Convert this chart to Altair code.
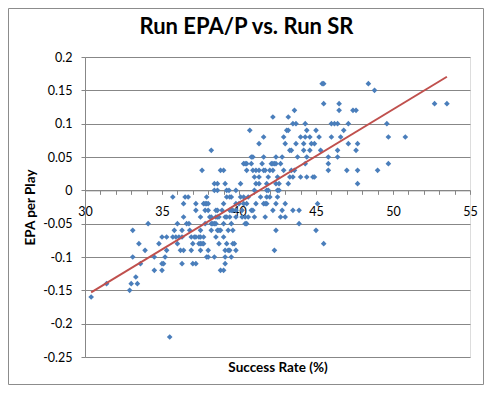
import altair as alt
import pandas as pd

# EPA rows (y) and the success rates (x) of the points in each row
rows = {
    0.16: [45.4, 45.5, 48.4],
    0.15: [48.8],
    0.13: [45.5, 46.5, 52.7, 53.5],
    0.12: [43.6, 46.5, 47.4, 47.6],
    0.11: [42.2, 43.2],
    0.10: [43.5, 43.7, 44.3, 46.0, 46.2, 46.4, 47.1, 49.6],
    0.09: [40.7, 43.1, 43.2, 44.4, 45.0, 46.8],
    0.08: [41.6, 42.9, 44.0, 44.3, 44.6, 45.2, 46.0, 46.6, 49.7, 50.8],
    0.07: [41.3, 43.0, 43.7, 44.2, 44.7, 44.9, 47.1, 47.7],
    0.06: [38.2, 43.3, 43.4, 44.2, 44.6, 45.3, 46.4, 47.6],
    0.05: [40.8, 40.9, 41.6, 42.4, 42.8, 43.8, 44.4, 45.8, 46.4],
    0.04: [40.3, 40.4, 40.5, 40.8, 41.5, 42.1, 42.2, 42.3, 42.4, 42.7, 44.3, 45.8, 49.7],
    0.03: [37.6, 38.8, 39.0, 40.5, 40.9, 41.1, 41.3, 41.6, 41.7, 42.0, 42.2, 42.9, 43.4, 43.6,
           45.8, 47.0, 47.7, 49.0],
    0.02: [41.0, 41.3, 41.9, 42.5, 43.3, 43.5, 44.0, 44.4, 44.8, 44.9],
    0.01: [38.4, 38.6, 39.1, 40.1, 41.1, 41.3, 41.8, 42.4, 42.6, 43.2, 47.7],
    0.00: [38.4, 38.6, 39.2, 39.35, 39.8, 41.0, 41.8, 41.9, 42.5, 42.6],
    -0.01: [35.7, 36.5, 36.7, 37.9, 39.2, 39.4, 39.5, 40.1, 40.3, 40.6, 41.4, 41.8, 42.0, 42.5],
    -0.02: [36.4, 37.2, 37.7, 37.8, 37.9, 38.0, 39.0, 39.8, 40.0, 40.3, 40.5, 41.1, 41.6, 41.7,
            41.8, 42.4, 43.0, 45.1],
    -0.03: [37.2, 37.8, 38.0, 38.5, 38.6, 38.9, 39.4, 39.5, 39.6, 39.8, 40.2, 40.8, 40.9, 42.2,
            42.8, 43.5, 43.9],
    -0.04: [36.4, 37.5, 38.1, 38.2, 38.5, 38.6, 38.7, 39.1, 39.2, 39.4, 39.8, 40.2, 40.4, 40.6,
            41.0, 41.7, 42.7, 43.0],
    -0.05: [34.1, 36.0, 36.6, 36.75, 37.8, 38.2, 38.3, 38.4, 38.5, 39.0, 39.5, 40.4, 40.5, 43.9],
    -0.06: [33.1, 35.8, 36.3, 36.8, 37.5, 38.2, 38.6, 38.7, 38.8, 39.3, 39.6, 42.4, 45.0],
    -0.07: [35.0, 35.3, 35.7, 35.9, 36.1, 36.3, 36.9, 37.1, 37.2, 37.4, 37.5, 37.7, 38.5, 39.0],
    -0.08: [33.5, 34.8, 36.0, 37.0, 37.4, 37.5, 37.6, 37.7, 38.7, 39.2, 39.6, 39.7, 45.5],
    -0.09: [33.9, 35.3, 36.2, 36.4, 36.9, 37.5, 38.0, 39.1, 39.3, 39.4, 39.8, 42.3],
    -0.10: [33.1, 34.5, 35.2, 37.9, 38.0, 38.4, 39.1, 39.5],
    -0.11: [33.6, 35.0, 35.1, 36.3, 37.0, 37.2, 39.1],
    -0.12: [34.5, 35.0, 38.8, 39.0],
    -0.13: [33.3],
    -0.14: [31.4, 33.0, 33.4],
    -0.15: [32.9],
    -0.16: [30.4],
    -0.22: [35.5],
}

x_ticks = list(range(30, 56))
y_ticks = [0.2, 0.15, 0.1, 0.05, 0, -0.05, -0.1, -0.15, -0.2, -0.25]

sr, epa = [], []
for y, xs in rows.items():
    for x in xs:
        sr.append(x)
        epa.append(y)
df = pd.DataFrame({"sr": sr, "epa": epa})

W, H = 385, 300
PAD_L, PAD_T, PAD_R, PAD_B = 77, 49, 14, 28
y_min, y_max = -0.25, 0.2
zero_offset = -H * (0 - y_min) / (y_max - y_min)

GRID = "#878787"

x_enc = alt.X(
    "sr:Q",
    scale=alt.Scale(domain=[30, 55], nice=False, zero=False),
    axis=alt.Axis(
        values=x_ticks,
        labelExpr="datum.value % 5 == 0 ? datum.label : ''",
        labelOverlap=False,
        labelFlush=False,
        grid=False,
        offset=zero_offset,
        domainColor=GRID,
        tickColor=GRID,
        tickSize=4,
        labelPadding=11,
        labelFont="Lato",
        labelFontSize=12.5,
        labelColor="#000000",
        title="Success Rate (%)",
        titleFont="Lato",
        titleFontSize=13.5,
        titleFontWeight="bold",
        titleColor="#000000",
        titleBaseline="middle",
        titleY=177,
    ),
)
y_enc = alt.Y(
    "epa:Q",
    scale=alt.Scale(domain=[y_min, y_max], nice=False, zero=False),
    axis=alt.Axis(
        values=y_ticks,
        labelExpr="replace(format(datum.value, '.2~f'), '\u2212', '-')",
        labelOverlap=False,
        labelFlush=False,
        grid=True,
        gridColor=GRID,
        gridWidth=1,
        domainColor=GRID,
        tickColor=GRID,
        tickSize=4,
        labelPadding=9,
        labelFont="Lato",
        labelFontSize=12.5,
        labelColor="#000000",
        title="EPA per Play",
        titleFont="Lato",
        titleFontSize=13.5,
        titleFontWeight="bold",
        titleColor="#000000",
        titlePadding=5,
    ),
)

base = alt.Chart(df)
points = base.mark_point(shape="diamond", filled=True, size=32, color="#4a7ebb", opacity=1).encode(
    x=x_enc, y=y_enc
)
trend = base.transform_regression("sr", "epa").mark_line(color="#c0504d", strokeWidth=2).encode(
    x=x_enc, y=y_enc
)
# outer frame of the chart
frame = alt.Chart(df).mark_rect(fill=None, stroke="#8c8c8c", strokeWidth=1, clip=False).encode(
    x=alt.value(-PAD_L + 0.5),
    x2=alt.value(W + PAD_R - 0.5),
    y=alt.value(-PAD_T + 0.5),
    y2=alt.value(H + PAD_B - 0.5),
).transform_filter("datum.sr == 30.4")

chart = (
    alt.layer(frame, points, trend)
    .properties(
        width=W,
        height=H,
        autosize=alt.AutoSizeParams(type="none"),
        padding={"left": PAD_L, "top": PAD_T, "right": PAD_R, "bottom": PAD_B},
        title=alt.TitleParams(
            "Run EPA/P vs. Run SR",
            font="Lato",
            fontSize=22,
            fontWeight="bold",
            color="#000000",
            anchor="middle",
            dx=-31,
            offset=-31,
        ),
    )
    .configure_view(stroke=None)
    .configure(background="white")
)

chart.save("out.html", embed_options={"renderer": "svg", "actions": False})
